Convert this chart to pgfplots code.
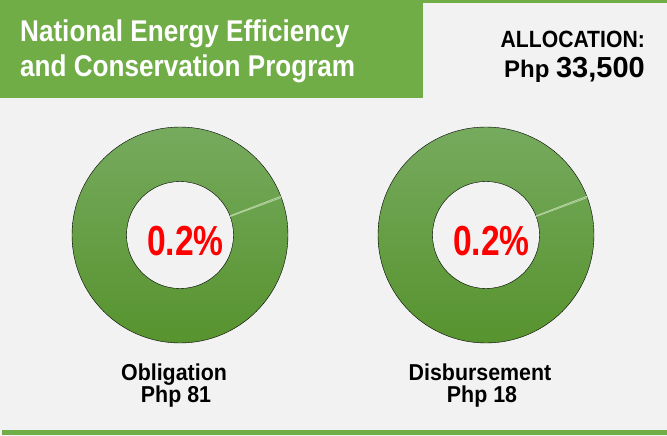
\documentclass[border=0pt]{standalone}
\usepackage{fontspec}
\setmainfont{Liberation Sans}
\newfontfamily\titlefont{Liberation Sans}[FakeStretch=0.87]
\newfontfamily\allocfont{Liberation Sans}[FakeStretch=0.9]
\newfontfamily\pctfont{Liberation Sans}[FakeStretch=0.8]
\newfontfamily\labfont{Liberation Sans}[FakeStretch=0.93]
\usepackage{pgfplots}
\pgfplotsset{compat=1.18}
\definecolor{bg}{HTML}{F2F2F2}
\definecolor{hdr}{HTML}{70AD47}
\definecolor{dtop}{HTML}{76AA5E}
\definecolor{dmid}{HTML}{64A03E}
\definecolor{dbot}{HTML}{57932E}
\definecolor{sline}{HTML}{B4D3A0}
\pgfdeclareplotmark{blank}{}

\begin{document}
\begin{tikzpicture}
\begin{axis}[
    scale only axis,
    width=667bp, height=436bp,
    xmin=0, xmax=667, ymin=0, ymax=436,
    y dir=reverse,
    hide axis, clip=false,
    axis background/.style={fill=bg},
]
% header bands
\fill[hdr] (axis cs:0,0) rectangle (axis cs:667,3);
\fill[hdr] (axis cs:0,0) rectangle (axis cs:423,98);
\fill[hdr] (axis cs:2,430) rectangle (axis cs:667,435);
\node[anchor=base west, inner sep=0, text=white, font=\titlefont\bfseries\fontsize{30bp}{36bp}\selectfont]
  at (axis cs:20,42) {National Energy Efficiency};
\node[anchor=base west, inner sep=0, text=white, font=\titlefont\bfseries\fontsize{30bp}{36bp}\selectfont]
  at (axis cs:20,77) {and Conservation Program};
\node[anchor=base east, inner sep=0, font=\allocfont\bfseries\fontsize{23.5bp}{28bp}\selectfont]
  at (axis cs:645,48) {ALLOCATION:};
\node[anchor=base east, inner sep=0, font=\bfseries]
  at (axis cs:645,78) {\fontsize{24bp}{28bp}\selectfont Php \fontsize{29bp}{34bp}\selectfont 33,500};

% donuts: centre, share in percent, name, amount
\addplot[scatter, only marks, mark=blank,
    visualization depends on={value \thisrow{pct} \as \pct},
    visualization depends on={value \thisrow{name} \as \lbl},
    visualization depends on={value \thisrow{amt} \as \amt},
    scatter/@pre marker code/.code={%
      \shade[top color=dtop, middle color=dmid, bottom color=dbot, even odd rule]
        (0,0) circle[radius=108bp] (0,0) circle[radius=53.5bp];
      \pgfmathsetmacro\aend{21-3.6*\pct}
      \draw[sline, line width=0.9bp] (21:53.5bp) -- (21:108bp);
      \draw[sline, line width=0.9bp] (\aend:53.5bp) -- (\aend:108bp);
      \node[anchor=base, inner sep=0, text=red, font=\pctfont\bfseries\fontsize{42bp}{48bp}\selectfont]
        at (5.5bp,-20bp) {\pct\%};
      \node[anchor=base, inner sep=0, font=\labfont\bfseries\fontsize{23bp}{27bp}\selectfont]
        at (-6bp,-145bp) {\lbl};
      \node[anchor=base, inner sep=0, font=\labfont\bfseries\fontsize{23bp}{27bp}\selectfont]
        at (-4bp,-167bp) {Php \amt};
    },
    scatter/@post marker code/.code={},
] table {
x   y   pct name         amt
180 235 0.2 Obligation   81
486 235 0.2 Disbursement 18
};
\end{axis}
\end{tikzpicture}
\end{document}
